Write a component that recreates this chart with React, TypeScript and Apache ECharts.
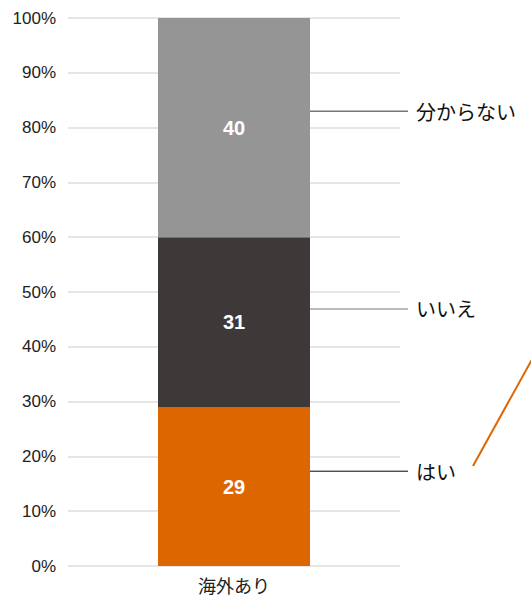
import React, { useEffect, useRef } from "react";
import * as echarts from "echarts";

const categories = ["海外あり"];
const seriesNames = ["はい", "いいえ", "分からない"];
const seriesValues = [[29], [31], [40]];
const seriesColors = ["#DD6600", "#3D3938", "#959595"];
const calloutLevels = [17.3, 46.9, 83.0];
const calloutLineColors = ["#000000", "#777777", "#333333"];
const yTicks = [0, 10, 20, 30, 40, 50, 60, 70, 80, 90, 100];

export default function App() {
  const ref = useRef<HTMLDivElement>(null);
  useEffect(() => {
    if (!ref.current) return;
    const chart = echarts.init(ref.current, null, { renderer: "svg" });
    chart.setOption({
      animation: false,
      grid: { left: 68, right: 131, top: 18, bottom: 32 },
      xAxis: {
        type: "category",
        data: categories,
        axisLine: { show: false },
        axisTick: { show: false },
        axisLabel: { fontSize: 18, lineHeight: 20, color: "#222", margin: 9, fontFamily: "Noto Sans CJK JP" },
      },
      yAxis: {
        type: "value",
        min: yTicks[0],
        max: yTicks[yTicks.length - 1],
        interval: 10,
        axisLabel: { formatter: "{value}%", fontSize: 17, color: "#222", margin: 12, fontFamily: "Liberation Sans" },
        axisLine: { show: false },
        axisTick: { show: false },
        splitLine: { lineStyle: { color: "#e6e6e6", width: 2 } },
      },
      series: seriesNames.map((name, i) => ({
        name,
        type: "bar",
        stack: "total",
        barWidth: 152,
        data: seriesValues[i],
        itemStyle: { color: seriesColors[i] },
        label: {
          show: true,
          position: "inside",
          color: "#fff",
          fontSize: 20,
          fontWeight: "bold",
          fontFamily: "Liberation Sans",
        },
      })),
    });
    const barRight = (chart.convertToPixel({ xAxisIndex: 0 }, categories[0]) as number) + 76;
    const graphics: any[] = [];
    seriesNames.forEach((name, i) => {
      const y = chart.convertToPixel({ yAxisIndex: 0 }, calloutLevels[i]) as number;
      graphics.push({
        type: "line",
        shape: { x1: barRight, y1: y, x2: barRight + 98, y2: y },
        style: { stroke: calloutLineColors[i], lineWidth: 1 },
      });
      graphics.push({
        type: "text",
        x: barRight + 106,
        y,
        style: {
          text: name,
          fontSize: 20,
          fill: "#111",
          fontFamily: "Noto Sans CJK JP",
          verticalAlign: "middle",
        },
      });
    });
    graphics.push({
      type: "line",
      shape: { x1: 473, y1: 466, x2: 540, y2: 345 },
      style: { stroke: "#DD6600", lineWidth: 2 },
    });
    chart.setOption({ graphic: graphics });
    return () => chart.dispose();
  }, []);
  return <div ref={ref} style={{ width: 531, height: 598, position: "absolute", left: 0, top: 0 }} />;
}
